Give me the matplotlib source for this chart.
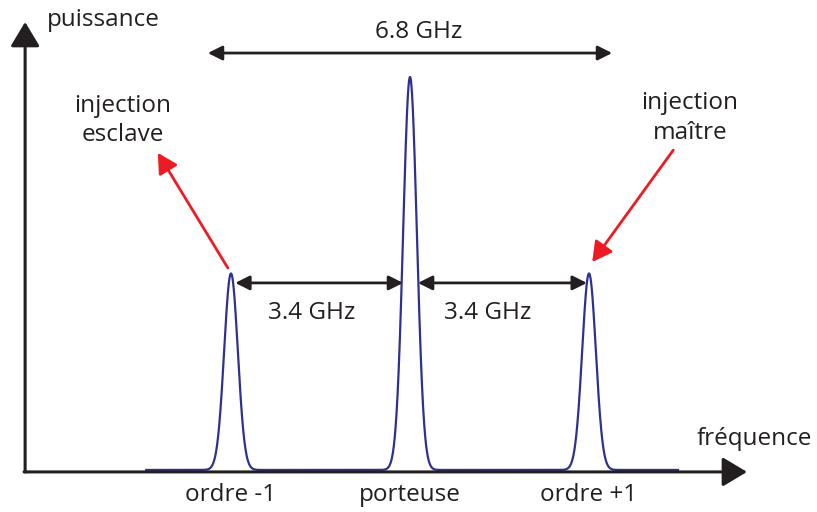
"""Spectre schematique : porteuse et bandes laterales a +/- 3.4 GHz"""
import matplotlib
matplotlib.use('Agg')
import matplotlib.pyplot as plt
import numpy as np

# Peaks (GHz, relative power)
peak_freqs = [-3.4, 0.0, 3.4]
peak_powers = [0.5, 1.0, 0.5]
peak_sigma = 0.13
peak_labels = ['ordre -1', 'porteuse', 'ordre +1']
f_span = [-5.03, 5.11]

split_label = '3.4 GHz'
total_label = '6.8 GHz'

ink = '#231F20'
blue = '#2E3192'
red = '#ED1C24'
fs = 17.5

plt.rcParams['font.family'] = ['Open Sans', 'DejaVu Sans']

fig = plt.figure(figsize=(8.17, 5.12), dpi=100)
ax = fig.add_axes([0, 0, 1, 1])
ax.set_xlim(-7.787, 7.730)
ax.set_ylim(-0.107, 1.196)
ax.axis('off')

# Axes arrows
axis_arrow = dict(arrowstyle='-|>,head_length=0.75,head_width=0.45', mutation_scale=20,
                  color=ink, lw=2.2, shrinkA=0, shrinkB=0)
ax.annotate('', xy=(-7.31, 1.14), xytext=(-7.31, -0.005), arrowprops=axis_arrow)
ax.annotate('', xy=(6.40, -0.005), xytext=(-7.33, -0.005), arrowprops=axis_arrow)
ax.text(-6.9, 1.145, 'puissance', fontsize=fs, color=ink, ha='left', va='center')
ax.text(5.45, 0.079, 'fréquence', fontsize=fs, color=ink, ha='left', va='center')

# Spectrum
f = np.linspace(f_span[0], f_span[1], 3000)
p = np.zeros_like(f)
for f0, p0 in zip(peak_freqs, peak_powers):
    p += p0 * np.exp(-0.5 * ((f - f0) / peak_sigma) ** 2)
ax.plot(f, p, color=blue, lw=1.6, solid_capstyle='butt')

for f0, lab in zip(peak_freqs, peak_labels):
    ax.text(f0, -0.064, lab, fontsize=fs, color=ink, ha='center', va='center')

# Spacing arrows
dbl = dict(arrowstyle='<|-|>,head_length=0.86,head_width=0.43', mutation_scale=10,
           color=ink, lw=2.0, shrinkA=0, shrinkB=0)
ax.annotate('', xy=(-0.13, 0.476), xytext=(-3.32, 0.476), arrowprops=dbl)
ax.annotate('', xy=(3.36, 0.476), xytext=(0.15, 0.476), arrowprops=dbl)
ax.text(-1.86, 0.40, split_label, fontsize=fs, color=ink, ha='center', va='center')
ax.text(1.48, 0.40, split_label, fontsize=fs, color=ink, ha='center', va='center')

ax.annotate('', xy=(3.84, 1.061), xytext=(-3.84, 1.061), arrowprops=dbl)
ax.text(0.17, 1.115, total_label, fontsize=fs, color=ink, ha='center', va='center')

# Injection arrows
red_arrow = dict(arrowstyle='-|>,head_length=1.2,head_width=0.65', mutation_scale=10,
                 color=red, lw=2.0, shrinkA=0, shrinkB=0)
ax.annotate('', xy=(-4.79, 0.807), xytext=(-3.46, 0.514), arrowprops=red_arrow)
ax.annotate('', xy=(3.46, 0.529), xytext=(5.0, 0.814), arrowprops=red_arrow)
ax.text(-5.45, 0.89, 'injection\nesclave', fontsize=fs, color=ink, ha='center', va='center',
        linespacing=1.3)
ax.text(5.32, 0.896, 'injection\nmaître', fontsize=fs, color=ink, ha='center', va='center',
        linespacing=1.3)

fig.savefig('out.png', dpi=100)
